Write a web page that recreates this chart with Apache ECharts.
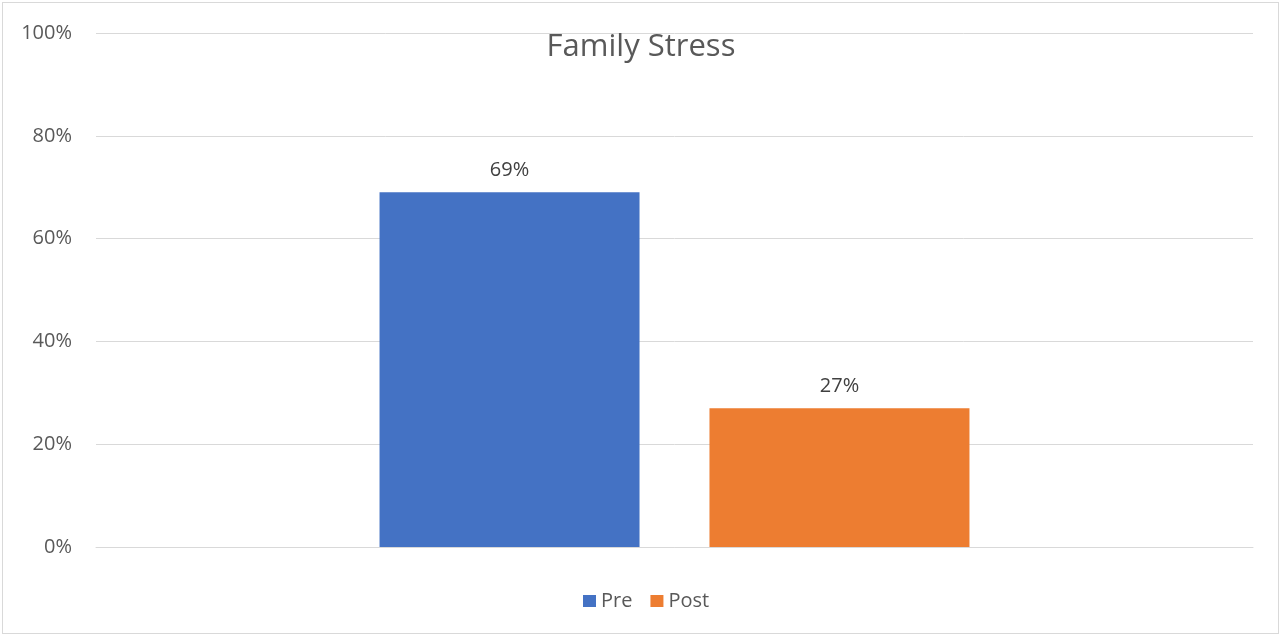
<!DOCTYPE html>
<html>
<head>
<meta charset="utf-8">
<script src="https://cdn.jsdelivr.net/npm/echarts@6/dist/echarts.min.js"></script>
<style>
  html, body { margin: 0; padding: 0; background: #fff; }
  #frame { position: absolute; left: 2px; top: 2px; width: 1277px; height: 632px; border: 1px solid #d9d9d9; box-sizing: border-box; }
  #chart { position: absolute; left: 0; top: 0; width: 1282px; height: 637px; }
</style>
</head>
<body>
<div id="frame"></div>
<div id="chart"></div>
<script>
const categories = ['Family Stress'];
const seriesNames = ['Pre', 'Post'];
const preValues = [69];
const postValues = [27];
const yTicks = [0, 20, 40, 60, 80, 100];
const colors = ['#4472c4', '#ed7d31'];

const FONT = 'Open Sans';
const chart = echarts.init(document.getElementById('chart'), null, { renderer: 'canvas' });

const labelCfg = {
  show: true,
  position: 'top',
  distance: 12,
  color: '#404040',
  fontFamily: FONT,
  fontSize: 20,
  formatter: p => p.value + '%'
};

chart.setOption({
  animation: false,
  title: {
    text: 'Family Stress',
    left: 'center',
    top: 27,
    textStyle: { fontFamily: FONT, fontSize: 31, fontWeight: 'normal', color: '#595959' }
  },
  legend: {
    data: seriesNames,
    top: 586,
    left: 578,
    itemWidth: 13,
    itemHeight: 12,
    itemGap: 18,
    icon: 'rect',
    textStyle: { fontFamily: FONT, fontSize: 20, color: '#595959' }
  },
  grid: { left: 96, right: 29, top: 33, bottom: 90, containLabel: false },
  xAxis: {
    type: 'category',
    data: categories,
    axisLine: { show: true, lineStyle: { color: '#d9d9d9', width: 1 } },
    axisTick: { show: false },
    axisLabel: { show: false }
  },
  yAxis: {
    type: 'value',
    min: yTicks[0],
    max: yTicks[yTicks.length - 1],
    interval: 20,
    axisLine: { show: false },
    axisTick: { show: false },
    splitLine: { lineStyle: { color: '#d9d9d9', width: 1 } },
    axisLabel: {
      fontFamily: FONT, fontSize: 20, color: '#595959', margin: 24,
      formatter: v => v + '%'
    }
  },
  series: [
    { name: seriesNames[0], type: 'bar', data: preValues, barWidth: 260, barGap: '26.9%',
      itemStyle: { color: colors[0] }, label: labelCfg },
    { name: seriesNames[1], type: 'bar', data: postValues, barWidth: 260,
      itemStyle: { color: colors[1] }, label: labelCfg }
  ]
});
</script>
</body>
</html>
